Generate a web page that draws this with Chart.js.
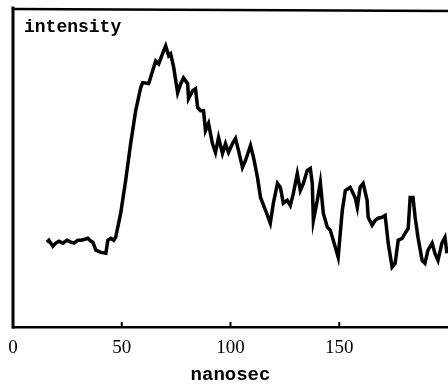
<!DOCTYPE html>
<html>
<head>
<meta charset="utf-8">
<script src="https://cdn.jsdelivr.net/npm/chart.js@4"></script>
<style>
  html, body { margin: 0; padding: 0; background: #fff; }
  #wrap { width: 448px; height: 387px; position: relative; }
</style>
</head>
<body>
<div id="wrap"><canvas id="chart"></canvas></div>
<script>
// time axis (nanosec) and intensity
const timeNs = [15.6, 16.5, 18.3, 19.7, 21.1, 22.9, 24.8, 26.6, 28.0, 29.8, 31.2, 33.0, 34.4, 35.8, 36.7, 38.1, 40.4, 42.7, 43.6, 45.0,
  46.3, 47.2, 49.5, 51.8, 54.1, 56.4, 58.7, 59.6, 62.4, 64.2, 65.6, 67.0, 67.9, 69.3, 70.2, 71.6, 72.5, 73.9, 75.7, 77.1,
  78.4, 80.3, 80.7, 82.6, 83.9, 84.9, 86.2, 87.6, 88.5, 89.9, 91.7, 93.1, 94.5, 96.3, 97.7, 99.1, 100.9, 102.3, 103.7, 105.5,
  106.9, 109.2, 110.6, 112.4, 113.8, 116.1, 118.3, 119.7, 121.6, 122.9, 124.3, 126.1, 127.5, 128.9, 130.7, 132.1, 133.5, 135.3, 136.7, 137.6,
  138.1, 139.9, 141.3, 142.7, 144.5, 145.9, 148.2, 149.5, 151.4, 152.8, 155.0, 157.3, 158.3, 159.6, 161.0, 162.8, 163.3, 165.1, 166.5, 167.9,
  169.7, 171.1, 172.5, 174.3, 175.7, 177.1, 178.9, 180.3, 181.7, 182.6, 183.9, 184.9, 186.2, 188.1, 189.4, 190.8, 192.7, 194.0, 195.4, 197.2,
  198.6, 199.5];
const intensity = [26.6, 27.2, 25.3, 26.3, 26.9, 26.3, 27.2, 26.6, 26.3, 27.2, 27.2, 27.5, 27.8, 26.9, 26.6, 24.1, 23.4, 23.1, 27.2, 27.8,
  27.2, 28.1, 35.6, 45.9, 57.5, 67.8, 75.0, 76.6, 76.3, 80.3, 83.4, 82.5, 84.1, 86.6, 88.1, 85.0, 85.6, 81.3, 73.4, 76.3,
  78.1, 76.3, 71.6, 74.1, 74.7, 68.8, 67.8, 67.8, 61.6, 63.8, 57.5, 54.7, 59.4, 54.4, 57.5, 54.7, 57.5, 59.1, 55.3, 50.0,
  52.2, 56.9, 53.1, 46.9, 40.6, 36.6, 32.5, 38.8, 45.0, 43.8, 38.8, 39.7, 38.1, 41.9, 48.1, 42.8, 45.0, 49.1, 49.7, 45.0,
  33.4, 39.7, 45.3, 35.6, 31.3, 30.3, 25.0, 21.9, 36.6, 42.8, 43.8, 40.6, 37.5, 43.8, 45.0, 39.7, 34.4, 31.9, 33.4, 34.1,
  34.4, 35.0, 26.3, 18.8, 20.0, 27.2, 27.8, 29.4, 30.9, 40.6, 40.6, 34.4, 28.1, 20.9, 20.0, 24.1, 26.3, 23.1, 20.9, 26.3,
  28.1, 23.1];
const xTicks = [0, 50, 100, 150];
const xLabel = "nanosec";
const yLabel = "intensity";

// frame: thick left axis, top border, inward tick marks, label inside the box
const framePlugin = {
  id: "frame",
  afterDraw(chart) {
    const ctx = chart.ctx;
    const a = chart.chartArea;
    const xs = chart.scales.x;
    ctx.save();
    ctx.strokeStyle = "#000";
    ctx.lineCap = "square";
    ctx.lineWidth = 3;
    ctx.beginPath();
    ctx.moveTo(a.left, a.bottom);
    ctx.lineTo(a.left, a.top);
    ctx.stroke();
    ctx.lineWidth = 2.5;
    ctx.beginPath();
    ctx.moveTo(a.left, a.top + 1);
    ctx.lineTo(a.right, a.top + 3);
    ctx.stroke();
    ctx.lineWidth = 2;
    xTicks.slice(1).forEach(v => {
      const px = xs.getPixelForValue(v);
      ctx.beginPath();
      ctx.moveTo(px, a.bottom);
      ctx.lineTo(px, a.bottom - 4);
      ctx.stroke();
    });
    ctx.fillStyle = "#000";
    ctx.font = "bold 18px 'Liberation Mono'";
    ctx.textBaseline = "alphabetic";
    ctx.fillText(yLabel, a.left + 11, a.top + 24);
    ctx.restore();
  }
};

new Chart(document.getElementById("chart"), {
  type: "line",
  data: {
    datasets: [{
      data: timeNs.map((t, i) => ({ x: t, y: intensity[i] })),
      borderColor: "#000",
      borderWidth: 3.5,
      pointRadius: 0,
      tension: 0,
      fill: false
    }]
  },
  options: {
    responsive: true,
    maintainAspectRatio: false,
    animation: false,
    layout: { padding: { left: 13, top: 8, right: 0, bottom: 0 } },
    plugins: { legend: { display: false }, tooltip: { enabled: false } },
    scales: {
      x: {
        type: "linear",
        min: 0,
        max: 200,
        afterFit(scale) {
          scale.height = 60;
          scale.paddingLeft = 0;
          scale.paddingRight = 0;
        },
        border: { display: true, color: "#000", width: 2.5 },
        grid: { display: false, drawTicks: false },
        ticks: {
          stepSize: 50,
          autoSkip: false,
          maxRotation: 0,
          padding: 10,
          color: "#000",
          font: { family: "'Liberation Serif'", size: 19 },
          callback: v => (xTicks.includes(v) ? String(v) : "")
        },
        title: {
          display: true,
          text: xLabel,
          color: "#000",
          padding: { top: 0, bottom: 0 },
          font: { family: "'Liberation Mono'", size: 19, weight: "bold" }
        }
      },
      y: {
        display: false,
        min: 0,
        max: 100
      }
    }
  },
  plugins: [framePlugin]
});
</script>
</body>
</html>
